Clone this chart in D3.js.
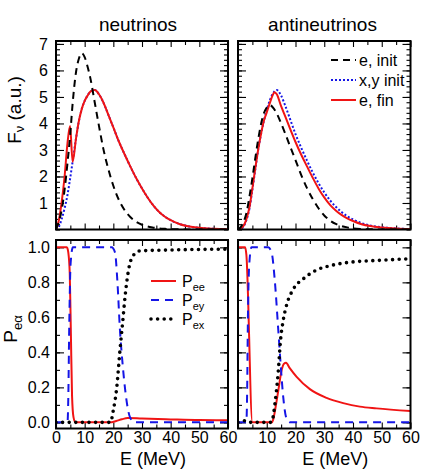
<!DOCTYPE html>
<html>
<head>
<meta charset="utf-8">
<script src="https://cdnjs.cloudflare.com/ajax/libs/d3/7.8.5/d3.min.js"></script>
<style>
body { margin: 0; background: #fff; }
svg { display: block; font-family: "Liberation Sans", Arial, Helvetica, sans-serif; }
</style>
</head>
<body>
<svg width="432" height="475"></svg>
<script>
// spectra, pairs of [E (MeV), F (a.u.)]
const nuInit = [[0,0],[1,0.3],[2,0.75],[3,1.5],[4,2.5],[4.9,3.5],[5.8,4.75],[7,5.95],[8,6.45],[9,6.65],[10,6.5],[11,6.15],[12,5.7],[13.5,4.8],[15,3.9],[16.5,3.05],[18,2.38],[20,1.65],[22,1.1],[24,0.72],[26,0.46],[28,0.29],[30,0.18],[32,0.11],[34,0.07],[36,0.04],[38,0.025],[40,0.015],[43,0.007],[46,0.003],[50,0.001],[55,0],[60,0]];
const nuXInit = [[0,0],[1,0.1],[2,0.4],[3,0.8],[4,1.3],[4.9,1.9],[5.8,2.56],[7,3.45],[8,4.1],[9,4.55],[10,4.85],[11,5.05],[12,5.2],[13.5,5.26],[15,5.1],[16.5,4.8],[18,4.4],[20,3.85],[22,3.3],[24,2.82],[26,2.36],[28,1.93],[30,1.55],[32,1.2],[34,0.9],[36,0.66],[38,0.48],[40,0.35],[43,0.21],[46,0.125],[50,0.062],[55,0.026],[60,0.01]];
const nuFin = [[0,0],[1,0.35],[2,1.05],[3,2.0],[4,3.25],[4.9,3.9],[5.8,2.56],[7,3.45],[8,4.1],[9,4.55],[10,4.85],[11,5.05],[12,5.2],[13.5,5.26],[15,5.1],[16.5,4.8],[18,4.4],[20,3.85],[22,3.3],[24,2.82],[26,2.36],[28,1.93],[30,1.55],[32,1.2],[34,0.9],[36,0.66],[38,0.48],[40,0.35],[43,0.21],[46,0.125],[50,0.062],[55,0.026],[60,0.01]];

const anuInit = [[0,0],[1,0.1],[2,0.3],[3,0.65],[4,1.25],[5,1.93],[6,2.68],[7,3.38],[8,3.97],[9,4.38],[10,4.6],[11,4.7],[12,4.62],[13.5,4.37],[15,4.0],[16.5,3.6],[18,3.17],[20,2.62],[22,2.05],[24,1.56],[26,1.15],[28,0.8],[30,0.53],[32,0.34],[34,0.21],[36,0.13],[38,0.08],[40,0.045],[43,0.02],[46,0.008],[50,0.002],[60,0]];
const anuXInit = [[0,0],[1,0.03],[2,0.12],[3,0.38],[4,0.8],[5,1.5],[6,2.25],[7,3.0],[8,3.6],[9,4.1],[10,4.5],[11,4.85],[12,5.1],[13.5,5.26],[15,5.05],[16.5,4.65],[18,4.2],[20,3.6],[22,3.08],[24,2.6],[26,2.15],[28,1.75],[30,1.4],[32,1.1],[34,0.86],[36,0.66],[38,0.5],[40,0.38],[43,0.24],[46,0.15],[50,0.085],[55,0.04],[60,0.018]];
const anuFin = [[0,0],[1,0.05],[2,0.15],[3,0.42],[4,0.85],[5,1.55],[6,2.3],[7,3.0],[8,3.6],[9,4.1],[10,4.42],[11,4.75],[12,5.05],[12.7,5.18],[13.5,5.1],[15,4.65],[16.5,4.25],[18,3.83],[20,3.3],[22,2.82],[24,2.38],[26,1.95],[28,1.55],[30,1.21],[32,0.93],[34,0.72],[36,0.55],[38,0.42],[40,0.32],[43,0.2],[46,0.13],[50,0.075],[55,0.035],[60,0.016]];

// probabilities, pairs of [E (MeV), P]
const nuPee = [[0,1],[3.8,1],[4.3,0.97],[4.8,0.85],[5.2,0.5],[5.6,0.15],[6.1,0.03],[6.8,0],[18.8,0],[21,0.008],[23,0.018],[25,0.025],[30,0.022],[40,0.017],[50,0.013],[60,0.012]];
const nuPey = [[0,0],[4.0,0],[4.3,0.15],[4.6,0.53],[5.1,0.91],[5.9,1],[19.4,1],[20.6,0.97],[21.4,0.81],[22.3,0.53],[23.2,0.34],[24.4,0.15],[25.8,0.03],[27.4,0],[60,0]];
const nuPex = [[0,0],[19,0],[20,0.07],[21.2,0.2],[22.3,0.41],[23.3,0.58],[24.1,0.72],[25.3,0.87],[27,0.955],[29.3,0.98],[40,0.985],[60,0.99]];

const anuPee = [[0,1],[2.5,1],[2.9,0.96],[5.0,0],[11.7,0],[12.3,0.02],[12.9,0.07],[14,0.18],[15.2,0.3],[16,0.335],[16.7,0.34],[18,0.31],[20.4,0.26],[25,0.19],[30.8,0.14],[36.6,0.11],[42.4,0.09],[48.2,0.08],[60,0.065]];
const anuPey = [[0,0],[2.9,0],[3.2,0.2],[3.4,0.53],[3.9,0.9],[4.7,1],[10.5,1],[11.7,0.97],[12.8,0.81],[14,0.53],[14.8,0.34],[15.7,0.15],[16.9,0.02],[18.1,0],[60,0]];
const anuPex = [[0,0],[1.5,0.005],[2.5,0.01],[4,0],[11.5,0],[12.2,0.03],[12.8,0.1],[14,0.29],[14.8,0.47],[15.7,0.58],[16.9,0.67],[19.2,0.76],[22.7,0.82],[27.3,0.87],[32,0.895],[36.6,0.91],[42.4,0.92],[48.2,0.925],[60,0.935]];

const xMajor = [0, 10, 20, 30, 40, 50, 60];
const xMinor = [5, 15, 25, 35, 45, 55];
const fMajor = [1, 2, 3, 4, 5, 6, 7];
const pMajor = [0, 0.2, 0.4, 0.6, 0.8, 1.0];

const titles = ["neutrinos", "antineutrinos"];

const svg = d3.select("svg");
const tickFont = 16;

const xLeft = d3.scaleLinear().domain([0, 60]).range([56, 228]);
const xRight = d3.scaleLinear().domain([0, 60]).range([238, 410.5]);
const yTop = d3.scaleLinear().domain([0, 7.11]).range([229.5, 41]);
const yBot = d3.scaleLinear().domain([-0.035, 1.042]).range([428.5, 240]);

function axisGroup(axis, transform, values, len, fmt, pad) {
    const g = svg.append("g")
        .attr("transform", transform)
        .call(axis.tickValues(values).tickSize(-len).tickPadding(pad || 4).tickFormat(fmt || ""));
    g.select(".domain").remove();
    g.attr("font-family", null).attr("font-size", tickFont);
    g.selectAll("line").attr("stroke", "#000").attr("stroke-width", 1.1);
    g.selectAll("text").attr("fill", "#000");
    return g;
}

function fineTicks(start, stop, step) {
    const out = [];
    for (let v = start; v <= stop + 1e-9; v += step) out.push(+v.toFixed(3));
    return out;
}

let clipId = 0;

function panel(x, y, yMaj, yMin, series, opts) {
    const [x0, x1] = x.range();
    const [y0, y1] = y.range();

    // ticks on all four sides, pointing inwards
    axisGroup(d3.axisBottom(x), `translate(0,${y0})`, xMajor, 6, opts.xLabels, 3);
    axisGroup(d3.axisBottom(x), `translate(0,${y0})`, xMinor, 4);
    axisGroup(d3.axisTop(x), `translate(0,${y1})`, xMajor, 6);
    axisGroup(d3.axisTop(x), `translate(0,${y1})`, xMinor, 4);
    axisGroup(d3.axisLeft(y), `translate(${x0},0)`, yMaj, 8, opts.yLabels, opts.yPad || 6);
    axisGroup(d3.axisLeft(y), `translate(${x0},0)`, yMin, 4);
    axisGroup(d3.axisRight(y), `translate(${x1},0)`, yMaj, 8);
    axisGroup(d3.axisRight(y), `translate(${x1},0)`, yMin, 4);

    const id = "clip" + (clipId++);
    svg.append("clipPath").attr("id", id)
        .append("rect").attr("x", x0).attr("y", y1).attr("width", x1 - x0).attr("height", y0 - y1);

    const line = d3.line()
        .x(d => x(d[0]))
        .y(d => y(d[1]))
        .curve(d3.curveMonotoneX);

    const g = svg.append("g").attr("clip-path", `url(#${id})`);
    series.forEach(s => {
        g.append("path")
            .attr("d", line(s.data))
            .attr("fill", "none")
            .attr("stroke", s.color)
            .attr("stroke-width", s.width)
            .attr("stroke-dasharray", s.dash)
            .attr("stroke-linecap", s.cap || "butt");
    });

    svg.append("rect")
        .attr("x", x0).attr("y", y1)
        .attr("width", x1 - x0).attr("height", y0 - y1)
        .attr("fill", "none").attr("stroke", "#000").attr("stroke-width", 2);
}

const styles = {
    init: { color: "#000", width: 2, dash: "7,5" },
    xinit: { color: "#1515e6", width: 2, dash: "2,2" },
    fin: { color: "#f01414", width: 2, dash: null },
    pee: { color: "#f01414", width: 2, dash: null },
    pey: { color: "#1515e6", width: 2, dash: "8,6" },
    pex: { color: "#000", width: 3.6, dash: "0,6.6", cap: "round" }
};

const fMinor = fineTicks(0, 7, 0.2);
const pMinor = fineTicks(0, 1, 0.1);
const fmtF = d => d3.format("d")(d);
const fmtP = d3.format(".1f");

panel(xLeft, yTop, fMajor, fMinor, [
    Object.assign({ data: nuXInit }, styles.xinit),
    Object.assign({ data: nuFin }, styles.fin),
    Object.assign({ data: nuInit }, styles.init)
], { yLabels: fmtF, yPad: 8 });

panel(xRight, yTop, fMajor, fMinor, [
    Object.assign({ data: anuXInit }, styles.xinit),
    Object.assign({ data: anuFin }, styles.fin),
    Object.assign({ data: anuInit }, styles.init)
], {});

panel(xLeft, yBot, pMajor, pMinor, [
    Object.assign({ data: nuPee }, styles.pee),
    Object.assign({ data: nuPey }, styles.pey),
    Object.assign({ data: nuPex }, styles.pex)
], { xLabels: d => d, yLabels: fmtP });

panel(xRight, yBot, pMajor, pMinor, [
    Object.assign({ data: anuPee }, styles.pee),
    Object.assign({ data: anuPey }, styles.pey),
    Object.assign({ data: anuPex }, styles.pex)
], { xLabels: d => (d === 0 ? "" : d) });

// titles
svg.append("text").attr("x", 138).attr("y", 31).attr("text-anchor", "middle")
    .attr("font-size", 19).text(titles[0]);
svg.append("text").attr("x", 322.5).attr("y", 31).attr("text-anchor", "middle")
    .attr("font-size", 19).text(titles[1]);

// axis labels
[xLeft, xRight].forEach(x => {
    svg.append("text")
        .attr("x", (x.range()[0] + x.range()[1]) / 2 + 11)
        .attr("y", 465)
        .attr("text-anchor", "middle")
        .attr("font-size", 18)
        .text("E (MeV)");
});

const fLabel = svg.append("text")
    .attr("transform", "translate(21,110) rotate(-90)")
    .attr("text-anchor", "middle")
    .attr("font-size", 19);
fLabel.append("tspan").text("F");
fLabel.append("tspan").attr("font-size", 13).attr("dy", 3).text("ν");
fLabel.append("tspan").attr("dy", -3).text(" (a.u.)");

const pLabel = svg.append("text")
    .attr("transform", "translate(17,329) rotate(-90)")
    .attr("text-anchor", "middle")
    .attr("font-size", 19);
pLabel.append("tspan").text("P");
pLabel.append("tspan").attr("font-size", 13).attr("dy", 5).text("eα");

// legend, spectra
const specLegend = [
    { label: "e, init", style: styles.init },
    { label: "x,y init", style: styles.xinit },
    { label: "e, fin", style: styles.fin }
];
specLegend.forEach((d, i) => {
    const yy = 60 + i * 20;
    svg.append("line")
        .attr("x1", 331).attr("x2", 356).attr("y1", yy).attr("y2", yy)
        .attr("stroke", d.style.color).attr("stroke-width", d.style.width)
        .attr("stroke-dasharray", d.style.dash);
    svg.append("text").attr("x", 359).attr("y", yy + 5.5)
        .attr("font-size", 16).text(d.label);
});

// legend, probabilities
const probLegend = [
    { sub: "ee", style: styles.pee },
    { sub: "ey", style: styles.pey },
    { sub: "ex", style: styles.pex }
];
probLegend.forEach((d, i) => {
    const yy = 281 + i * 19;
    svg.append("line")
        .attr("x1", 151).attr("x2", 176).attr("y1", yy).attr("y2", yy)
        .attr("stroke", d.style.color).attr("stroke-width", d.style.width)
        .attr("stroke-dasharray", d.style.dash)
        .attr("stroke-linecap", d.style.cap || "butt");
    const t = svg.append("text").attr("x", 182).attr("y", yy + 5.7).attr("font-size", 16);
    t.append("tspan").text("P");
    t.append("tspan").attr("font-size", 11).attr("dy", 4).text(d.sub);
});
</script>
</body>
</html>
